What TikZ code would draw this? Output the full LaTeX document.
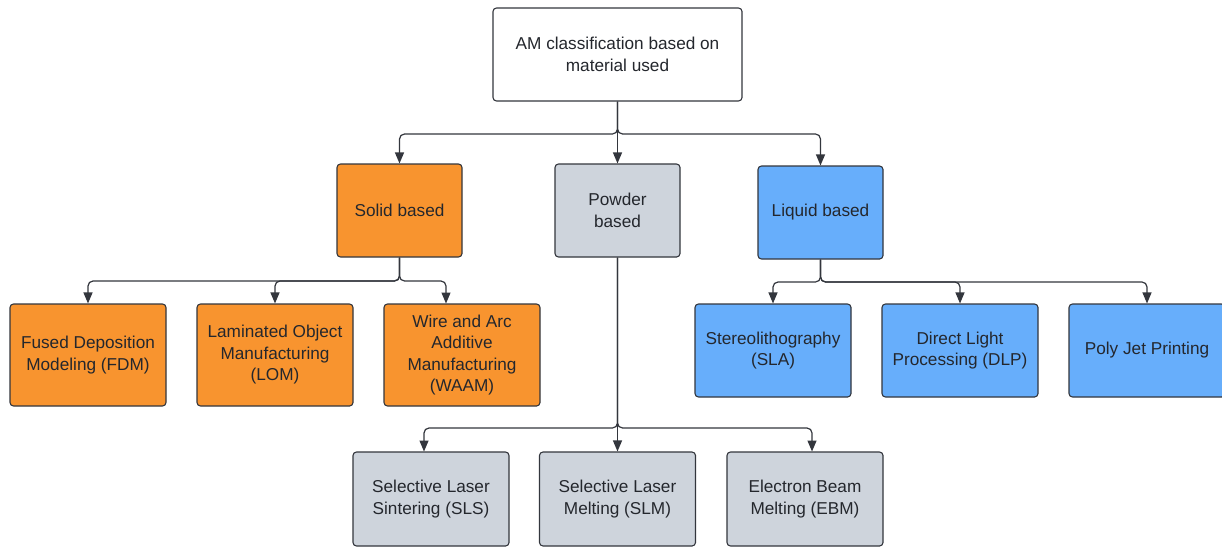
\documentclass[tikz,border=0pt]{standalone}
\usepackage{fontspec}
\setmainfont{Liberation Sans}
\usetikzlibrary{arrows.meta}
\definecolor{lineC}{HTML}{33363D}
\definecolor{txtC}{HTML}{24272D}
\definecolor{orangeC}{HTML}{F8942F}
\definecolor{grayC}{HTML}{CED4DC}
\definecolor{blueC}{HTML}{67AEFB}
\tikzset{
  box/.style={draw=lineC, line width=1.1pt, rounded corners=3.5pt, align=center,
    inner sep=0pt, text=txtC, font=\fontsize{17.2}{21.5}\selectfont},
  rootbox/.style={box, fill=white, minimum width=249pt, minimum height=93pt},
  midbox/.style={box, minimum width=125pt, minimum height=93pt},
  leafbox/.style={box, minimum width=156pt, minimum height=93pt},
  solidfill/.style={fill=orangeC},
  powderfill/.style={fill=grayC},
  liquidfill/.style={fill=blueC},
  conn/.style={draw=lineC, line width=1.2pt, rounded corners=5pt,
    -{Triangle[width=9pt,length=11pt]}},
}
\begin{document}
\begin{tikzpicture}[x=1pt,y=-1pt]
\useasboundingbox (0,0) rectangle (1222,546);
\fill[white] (0,0) rectangle (1222,546);
\begin{scope}
\clip (0,0) rectangle (1222,546);
% nodes
\node[rootbox] (root) at (617.5,54.5) {AM classification based on\\material used};
\node[midbox,solidfill] (solid) at (399.5,210.5) {Solid based};
\node[midbox,powderfill] (powder) at (617.5,210.5) {Powder\\based};
\node[midbox,liquidfill] (liquid) at (820.5,212.5) {Liquid based};

\node[leafbox,solidfill,minimum height=102pt] (fdm) at (88,355) {Fused Deposition\\Modeling (FDM)};
\node[leafbox,solidfill,minimum height=102pt] (lom) at (275,355) {Laminated Object\\Manufacturing\\(LOM)};
\node[leafbox,solidfill,minimum height=102pt] (waam) at (462,355) {Wire and Arc\\Additive\\Manufacturing\\(WAAM)};

\node[leafbox,liquidfill] (sla) at (773,350.5) {Stereolithography\\(SLA)};
\node[leafbox,liquidfill] (dlp) at (960,350.5) {Direct Light\\Processing (DLP)};
\node[leafbox,liquidfill] (pjp) at (1147,350.5) {Poly Jet Printing};

\node[leafbox,powderfill,minimum height=94pt] (sls) at (431,499) {Selective Laser\\Sintering (SLS)};
\node[leafbox,powderfill,minimum height=94pt] (slm) at (617.5,499) {Selective Laser\\Melting (SLM)};
\node[leafbox,powderfill,minimum height=94pt] (ebm) at (805,499) {Electron Beam\\Melting (EBM)};

% branch levels
\coordinate (b0) at (0,134);
\coordinate (b1) at (0,281);
\coordinate (b2) at (0,282);
\coordinate (b3) at (0,428);
% target points for off-centre arrows
\coordinate (waamin) at (446,303.5);
\coordinate (slsin) at (424,451.5);
\coordinate (ebmin) at (812,451.5);

% connectors from root
\draw[conn] (root.south) -- (root.south |- b0) -| (solid.north);
\draw[conn] (root.south) -- (powder.north);
\draw[conn] (root.south) -- (root.south |- b0) -| (liquid.north);

% solid children
\draw[conn] (solid.south) -- (solid.south |- b1) -| (fdm.north);
\draw[conn] (solid.south) -- (solid.south |- b1) -| (lom.north);
\draw[conn] (solid.south) -- (solid.south |- b1) -| (waamin);

% liquid children
\draw[conn] (liquid.south) -- (liquid.south |- b2) -| (sla.north);
\draw[conn] (liquid.south) -- (liquid.south |- b2) -| (dlp.north);
\draw[conn] (liquid.south) -- (liquid.south |- b2) -| (pjp.north);

% powder children
\draw[conn] (powder.south) -- (powder.south |- b3) -| (slsin);
\draw[conn] (powder.south) -- (slm.north);
\draw[conn] (powder.south) -- (powder.south |- b3) -| (ebmin);
\end{scope}
\end{tikzpicture}
\end{document}
